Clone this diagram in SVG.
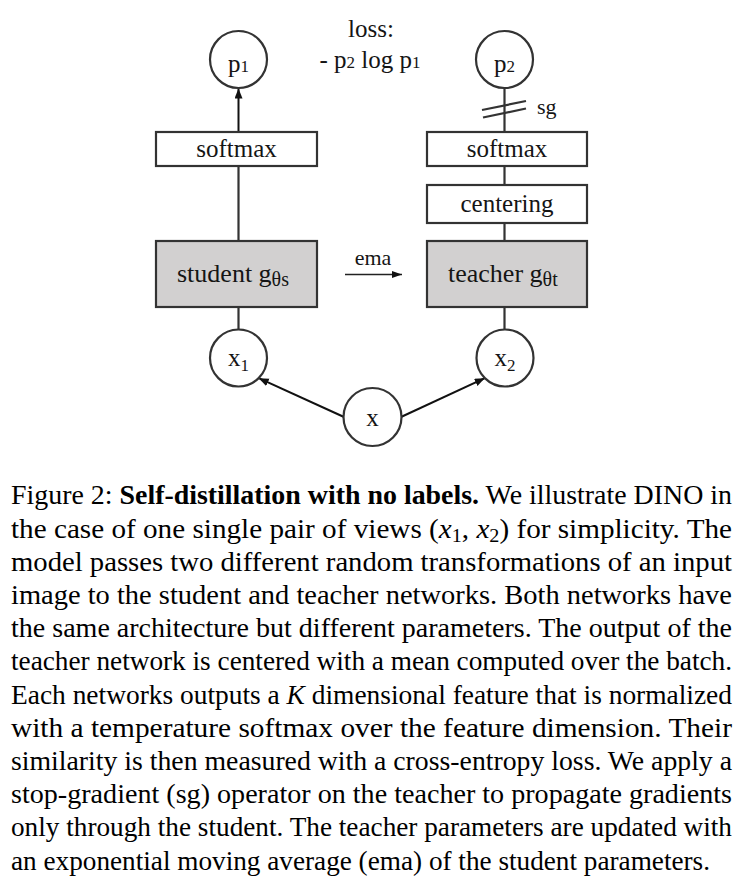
<svg xmlns="http://www.w3.org/2000/svg" width="742" height="888" viewBox="0 0 742 888">
<defs>
<marker id="ah" markerUnits="userSpaceOnUse" markerWidth="12" markerHeight="10" refX="10" refY="4" orient="auto">
<path d="M0,0 L10,4 L0,8 Z" fill="#111"/>
</marker>
<marker id="ahs" markerUnits="userSpaceOnUse" markerWidth="12" markerHeight="10" refX="10" refY="4" orient="auto">
<path d="M0,0.5 L10,4 L0,7.5 Z" fill="#111"/>
</marker>
<style>
.nd{fill:#fff;stroke:#333;stroke-width:2.2}
.gr{fill:#d2d0d0;stroke:#333;stroke-width:2.2}
.t{font-family:"Liberation Serif",serif;font-size:25px;fill:#151515}
.sm{font-size:17px}
.sub{font-size:20px}
.ln{stroke:#333;stroke-width:2.2;fill:none}
.ar{stroke:#111;stroke-width:2;fill:none}
.cap{font-family:"Liberation Serif","Times New Roman",serif;font-size:27.5px;fill:#000}
</style>
</defs>
<rect width="742" height="888" fill="#fff"/>
<g id="connectors">
<line class="ar" x1="238.5" y1="132" x2="238.5" y2="88.5" marker-end="url(#ah)"/>
<line class="ln" x1="238.5" y1="241" x2="238.5" y2="166"/>
<line class="ln" x1="238.5" y1="329.5" x2="238.5" y2="307"/>
<line class="ln" x1="504.5" y1="88" x2="504.5" y2="132"/>
<line class="ln" x1="504.5" y1="166" x2="504.5" y2="185"/>
<line class="ln" x1="504.5" y1="223" x2="504.5" y2="241"/>
<line class="ln" x1="504.5" y1="307" x2="504.5" y2="329.5"/>
<line class="ln" x1="482" y1="110" x2="526" y2="101"/>
<line class="ln" x1="483" y1="117.5" x2="526" y2="108.5"/>
<line class="ar" x1="344" y1="417" x2="258.7" y2="378.2" marker-end="url(#ah)"/>
<line class="ar" x1="401" y1="417" x2="484.8" y2="378.2" marker-end="url(#ah)"/>
<line stroke="#222" stroke-width="1.3" x1="345" y1="274.5" x2="402" y2="274.5" marker-end="url(#ahs)"/>
</g>
<g id="p1">
<circle class="nd" cx="238.5" cy="59.5" r="28.5"/>
<text class="t" x="238.5" y="71.5" text-anchor="middle">p<tspan class="sm">1</tspan></text>
</g>
<g id="p2">
<circle class="nd" cx="504.5" cy="59.5" r="28.5"/>
<text class="t" x="504.5" y="71.5" text-anchor="middle">p<tspan class="sm">2</tspan></text>
</g>
<g id="loss">
<text class="t" x="371" y="37" text-anchor="middle">loss:</text>
<text class="t" x="370" y="68" text-anchor="middle">- p<tspan class="sm">2</tspan> log p<tspan class="sm">1</tspan></text>
</g>
<g id="sg">
<text class="t" x="537" y="114" style="font-size:22px">sg</text>
</g>
<g id="softmax-s">
<rect class="nd" x="156" y="132" width="161" height="34"/>
<text class="t" x="236.5" y="157" text-anchor="middle">softmax</text>
</g>
<g id="softmax-t">
<rect class="nd" x="427" y="132" width="160" height="34"/>
<text class="t" x="507" y="157" text-anchor="middle">softmax</text>
</g>
<g id="centering">
<rect class="nd" x="427" y="185" width="160" height="38"/>
<text class="t" x="507" y="212" text-anchor="middle">centering</text>
</g>
<g id="student">
<rect class="gr" x="156" y="241" width="161" height="66"/>
<text class="t" x="177" y="282" style="font-size:26px">student g<tspan class="sub" dy="4">θs</tspan></text>
</g>
<g id="teacher">
<rect class="gr" x="427" y="241" width="160" height="66"/>
<text class="t" x="448" y="282" style="font-size:26px">teacher g<tspan class="sub" dy="4">θt</tspan></text>
</g>
<g id="ema">
<text class="t" x="373" y="265" text-anchor="middle" style="font-size:22px">ema</text>
</g>
<g id="x1">
<circle class="nd" cx="238.5" cy="358" r="28.5"/>
<text class="t" x="238.5" y="366" text-anchor="middle">x<tspan class="sm" dy="5">1</tspan></text>
</g>
<g id="x2">
<circle class="nd" cx="505" cy="358" r="28.5"/>
<text class="t" x="505" y="366" text-anchor="middle">x<tspan class="sm" dy="5">2</tspan></text>
</g>
<g id="x">
<circle class="nd" cx="372.5" cy="417" r="29"/>
<text class="t" x="372.5" y="426" text-anchor="middle">x</text>
</g>
<g id="caption" class="cap">
<text x="11" y="504.3" textLength="721" lengthAdjust="spacingAndGlyphs">Figure 2: <tspan font-weight="bold">Self-distillation with no labels.</tspan> We illustrate DINO in</text>
<text x="11" y="537.5" textLength="721" lengthAdjust="spacingAndGlyphs">the case of one single pair of views (<tspan font-style="italic">x</tspan><tspan font-size="19" dy="4">1</tspan><tspan dy="-4">, </tspan><tspan font-style="italic">x</tspan><tspan font-size="19" dy="4">2</tspan><tspan dy="-4">) for simplicity. The</tspan></text>
<text x="11" y="570.7" textLength="721" lengthAdjust="spacingAndGlyphs">model passes two different random transformations of an input</text>
<text x="11" y="603.9" textLength="721" lengthAdjust="spacingAndGlyphs">image to the student and teacher networks. Both networks have</text>
<text x="11" y="637.1" textLength="721" lengthAdjust="spacingAndGlyphs">the same architecture but different parameters. The output of the</text>
<text x="11" y="670.3" textLength="721" lengthAdjust="spacingAndGlyphs">teacher network is centered with a mean computed over the batch.</text>
<text x="11" y="703.5" textLength="721" lengthAdjust="spacingAndGlyphs">Each networks outputs a <tspan font-style="italic">K</tspan> dimensional feature that is normalized</text>
<text x="11" y="736.7" textLength="721" lengthAdjust="spacingAndGlyphs">with a temperature softmax over the feature dimension.  Their</text>
<text x="11" y="769.9" textLength="721" lengthAdjust="spacingAndGlyphs">similarity is then measured with a cross-entropy loss. We apply a</text>
<text x="11" y="803.1" textLength="721" lengthAdjust="spacingAndGlyphs">stop-gradient (sg) operator on the teacher to propagate gradients</text>
<text x="11" y="836.3" textLength="721" lengthAdjust="spacingAndGlyphs">only through the student. The teacher parameters are updated with</text>
<text x="11" y="869.5" textLength="699" lengthAdjust="spacingAndGlyphs">an exponential moving average (ema) of the student parameters.</text>
</g>
</svg>
